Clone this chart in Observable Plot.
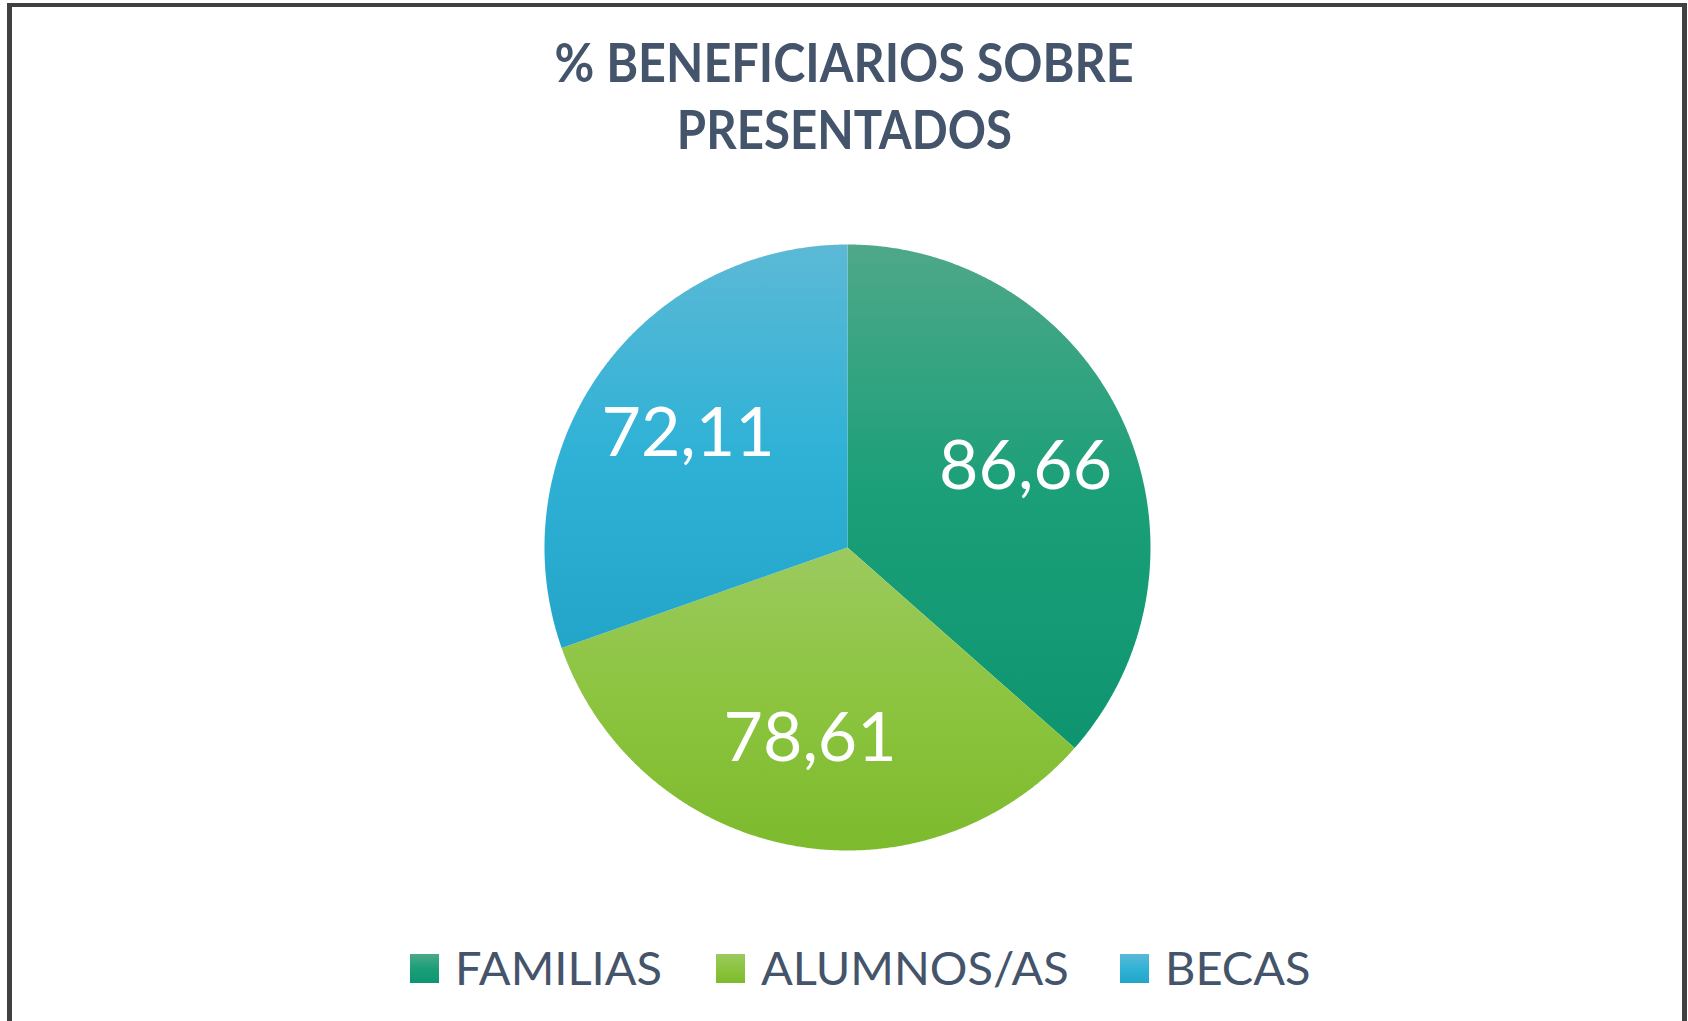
<!DOCTYPE html>
<html>
<head>
<meta charset="utf-8">
<script src="https://cdn.jsdelivr.net/npm/d3@7"></script>
<script src="https://cdn.jsdelivr.net/npm/@observablehq/plot@0.6"></script>
<style>
  html, body { margin: 0; padding: 0; background: #fff; overflow: hidden; }
  #wrap { position: relative; width: 1688px; height: 1021px; overflow: hidden; }
  #frame { position: absolute; left: 7px; top: 3px; width: 1670px; height: 1100px;
           border: 5px solid #404040; border-top-width: 4px; box-sizing: content-box; }
  #title { position: absolute; left: 0; top: 0; width: 1688px; text-align: center;
           font-family: Lato, "Open Sans", sans-serif; font-weight: 700; font-size: 53px;
           color: #44546a; line-height: 67px; padding-top: 28px; }
  #title span { display: inline-block; transform-origin: center; }
  #chart { position: absolute; left: 0; top: 200px; }
  #legend { position: absolute; left: 0; top: 900px; width: 1688px; height: 121px; }
  .item { position: absolute; top: 0; height: 121px; font-family: Lato, "Open Sans", sans-serif;
          font-size: 47px; color: #44546a; }
  .sw { position: absolute; top: 54px; width: 29px; height: 29px; }
  .lab { position: absolute; top: 37px; white-space: nowrap; line-height: 60px; }
</style>
</head>
<body>
<div id="wrap">
  <div id="frame"></div>
  <div id="title"><span id="t1">% BENEFICIARIOS SOBRE</span><br><span id="t2">PRESENTADOS</span></div>
  <div id="chart"></div>
  <div id="legend"></div>
</div>
<script>
const categories = ["FAMILIAS", "ALUMNOS/AS", "BECAS"];
const values = [86.66, 78.61, 72.11];
const labels = ["86,66", "78,61", "72,11"];
const gradTop = ["#4ea889", "#9bca5f", "#5cb9d6"];
const gradMid = ["#1a9f78", "#8cc43f", "#30b2d6"];
const gradBot = ["#0e9570", "#7dba2d", "#22a5c8"];

const pie = d3.pie().sort(null).value(d => d.value).startAngle(0).endAngle(2 * Math.PI);
const arcs = pie(categories.map((c, i) => ({name: c, value: values[i], label: labels[i], i})));

function slicePoints(a) {
  const pts = [{x: 0, y: 0}];
  const n = Math.max(8, Math.ceil((a.endAngle - a.startAngle) / 0.005));
  for (let k = 0; k <= n; k++) {
    const t = a.startAngle + (a.endAngle - a.startAngle) * k / n;
    pts.push({x: Math.sin(t), y: Math.cos(t)});
  }
  pts.push({x: 0, y: 0});
  return pts;
}

const labelData = arcs.map(a => {
  const m = (a.startAngle + a.endAngle) / 2;
  return {x: 0.645 * Math.sin(m), y: 0.645 * Math.cos(m), text: a.data.label};
});

const R = 303, cx = 847, cy = 347;
const plot = Plot.plot({
  width: 1688,
  height: 700,
  margin: 0,
  x: {domain: [-1, 1], range: [cx - R, cx + R], axis: null},
  y: {domain: [-1, 1], range: [cy + R, cy - R], axis: null},
  marks: [
    ...arcs.map(a => Plot.line(slicePoints(a), {x: "x", y: "y", fill: `url(#grad${a.data.i})`, stroke: "none", curve: "linear"})),
    Plot.text(labelData, {x: "x", y: "y", text: "text", fill: "white", fontSize: 68,
      fontFamily: "Lato, 'Open Sans', sans-serif", fontWeight: 400})
  ]
});

const ns = "http://www.w3.org/2000/svg";
const defs = document.createElementNS(ns, "defs");
categories.forEach((c, i) => {
  const g = document.createElementNS(ns, "linearGradient");
  g.setAttribute("id", "grad" + i);
  g.setAttribute("x1", "0"); g.setAttribute("y1", "0");
  g.setAttribute("x2", "0"); g.setAttribute("y2", "1");
  [[0, gradTop[i]], [0.5, gradMid[i]], [1, gradBot[i]]].forEach(([o, col]) => {
    const s = document.createElementNS(ns, "stop");
    s.setAttribute("offset", o);
    s.setAttribute("stop-color", col);
    g.appendChild(s);
  });
  defs.appendChild(g);
});
plot.insertBefore(defs, plot.firstChild);
document.getElementById("chart").appendChild(plot);

// legend
const legendX = [410, 716, 1120];
const legend = document.getElementById("legend");
categories.forEach((c, i) => {
  const it = document.createElement("div");
  it.className = "item";
  it.style.left = legendX[i] + "px";
  const sw = document.createElement("div");
  sw.className = "sw";
  sw.style.left = "0px";
  sw.style.background = `linear-gradient(to bottom, ${gradTop[i]}, ${gradMid[i]} 50%, ${gradBot[i]})`;
  const lb = document.createElement("div");
  lb.className = "lab";
  lb.style.left = "45px";
  lb.textContent = c;
  it.appendChild(sw); it.appendChild(lb);
  legend.appendChild(it);
});

// fit title line widths to reference
const fit = [["t1", 579], ["t2", 335]];
fit.forEach(([id, w]) => {
  const el = document.getElementById(id);
  const cw = el.getBoundingClientRect().width;
  if (cw > 0) el.style.transform = `scaleX(${(w / cw).toFixed(3)})`;
});
</script>
</body>
</html>
